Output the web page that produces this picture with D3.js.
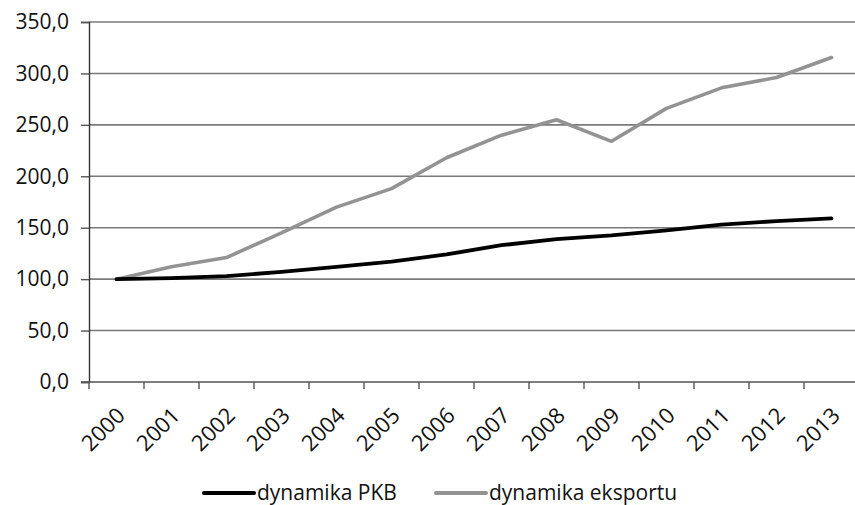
<!DOCTYPE html>
<html>
<head>
<meta charset="utf-8">
<script src="https://cdn.jsdelivr.net/npm/d3@7"></script>
<style>
  body { margin: 0; background: #fff; }
  svg text { font-family: "Open Sans", sans-serif; fill: #111; }
</style>
</head>
<body>
<svg id="chart" width="855" height="505"></svg>
<script>
// data
var years = ["2000", "2001", "2002", "2003", "2004", "2005", "2006",
             "2007", "2008", "2009", "2010", "2011", "2012", "2013"];
var pkb = [100, 101, 103, 107, 112, 117, 124, 133, 139, 142.5, 147.5, 153, 156.5, 159];
var eksport = [100, 112, 121, 145, 170, 188, 218, 240, 255, 234, 266, 286, 296, 315.5];
var yTicks = [0, 50, 100, 150, 200, 250, 300, 350];
var seriesNames = ["dynamika PKB", "dynamika eksportu"];
var seriesColors = ["#000000", "#939393"];

var svg = d3.select("#chart");
// plot area (window.top is reserved, so use other names)
var plotLeft = 89, plotRight = 859, plotTop = 22, plotBottom = 382;

var x = d3.scaleBand().domain(years).range([plotLeft, plotRight]);
var y = d3.scaleLinear().domain([0, 350]).range([plotBottom, plotTop]);

var fmt = function(d) { return d3.format(".1f")(d).replace(".", ","); };

// gridlines
svg.append("g")
  .selectAll("line")
  .data(yTicks.slice(1))
  .enter().append("line")
    .attr("x1", plotLeft).attr("x2", plotRight)
    .attr("y1", function(d) { return y(d); })
    .attr("y2", function(d) { return y(d); })
    .attr("stroke", "#7a7a7a")
    .attr("stroke-width", 1.6);

// y axis
var yAxis = svg.append("g")
  .attr("transform", "translate(" + plotLeft + ",0)")
  .call(d3.axisLeft(y).tickValues(yTicks).tickFormat(fmt).tickSize(8).tickPadding(12));
yAxis.select(".domain").attr("stroke", "#333").attr("stroke-width", 1.4);
yAxis.selectAll(".tick line").attr("stroke", "#555").attr("stroke-width", 1.4);
yAxis.selectAll("text").attr("font-size", 21).attr("font-family", "Open Sans").attr("fill", "#111");

// x axis with ticks between the categories
var xAxis = svg.append("g")
  .attr("transform", "translate(0," + plotBottom + ")");
xAxis.append("line")
  .attr("x1", plotLeft - 8).attr("x2", plotRight)
  .attr("stroke", "#555").attr("stroke-width", 1.6);
xAxis.selectAll(".tk")
  .data(years)
  .enter().append("line")
    .attr("class", "tk")
    .attr("x1", function(d) { return x(d); })
    .attr("x2", function(d) { return x(d); })
    .attr("y1", 0).attr("y2", 7)
    .attr("stroke", "#555").attr("stroke-width", 1.4);
xAxis.selectAll("text")
  .data(years)
  .enter().append("text")
    .attr("transform", function(d) {
      return "translate(" + (x(d) + x.bandwidth() / 2 - 1) + ",24) rotate(-45)";
    })
    .attr("text-anchor", "end")
    .attr("dy", "0.7em")
    .attr("font-size", 22)
    .text(function(d) { return d; });

// lines
var line = d3.line()
  .x(function(d, i) { return x(years[i]) + x.bandwidth() / 2; })
  .y(function(d) { return y(d); });

[eksport, pkb].forEach(function(vals) {
  var idx = vals === pkb ? 0 : 1;
  svg.append("path")
    .datum(vals)
    .attr("d", line)
    .attr("fill", "none")
    .attr("stroke", seriesColors[idx])
    .attr("stroke-width", idx === 0 ? 3.8 : 3.6)
    .attr("stroke-linejoin", "round")
    .attr("stroke-linecap", "round");
});

// legend
var legendX = [204, 436];
var legend = svg.append("g").selectAll("g")
  .data(seriesNames)
  .enter().append("g")
    .attr("transform", function(d, i) { return "translate(" + legendX[i] + ",493)"; });
legend.append("line")
  .attr("x1", 0).attr("x2", 50)
  .attr("stroke", function(d, i) { return seriesColors[i]; })
  .attr("stroke-width", 4)
  .attr("stroke-linecap", "round");
legend.append("text")
  .attr("x", 53)
  .attr("dy", "0.35em")
  .attr("font-size", 21)
  .text(function(d) { return d; });
</script>
</body>
</html>
